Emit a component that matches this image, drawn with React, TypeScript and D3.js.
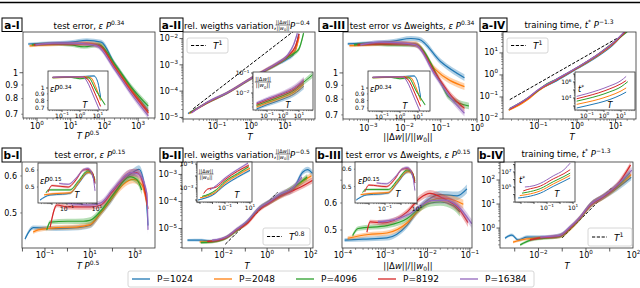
import React from 'react';
import * as d3 from 'd3';

const FONT = 'DejaVu Sans, Verdana, sans-serif';
const COLORS = ['#1f77b4', '#ff7f0e', '#2ca02c', '#d62728', '#9467bd'];
const SERIES_LABELS = ['P=1024', 'P=2048', 'P=4096', 'P=8192', 'P=16384'];
const M = '\u2212';

type Pt = [number, number];
type Tick = [number, string, string];

// ---------- a-I : test error vs T P^0.5 ----------
const aI_main: Pt[][] = [
  [[0.55, 1.28], [2, 1.29], [10, 1.3], [30, 1.32], [80, 1.3], [200, 1.08], [600, 0.88], [2000, 0.72]],
  [[0.6, 1.26], [2, 1.27], [10, 1.28], [30, 1.29], [70, 1.27], [200, 1.06], [600, 0.87], [2000, 0.71]],
  [[0.7, 1.27], [2, 1.28], [10, 1.27], [25, 1.25], [70, 1.27], [200, 1.08], [600, 0.89], [2000, 0.75]],
  [[0.8, 1.27], [2, 1.28], [10, 1.28], [30, 1.28], [70, 1.26], [200, 1.05], [600, 0.86], [2000, 0.71]],
  [[0.9, 1.27], [3, 1.29], [10, 1.29], [30, 1.28], [60, 1.26], [200, 1.03], [600, 0.84], [2000, 0.69]],
];
const aI_inset: Pt[][] = [
  [[0.03, 1.21], [0.3, 1.22], [2, 1.23], [6, 1.24], [10, 1.1], [14, 0.85]],
  [[0.03, 1.2], [0.3, 1.21], [2, 1.22], [4, 1.2], [8, 1.0], [14, 0.8]],
  [[0.03, 1.2], [0.3, 1.21], [1, 1.18], [3, 1.2], [8, 0.95], [25, 0.74]],
  [[0.03, 1.21], [0.3, 1.22], [1.5, 1.22], [3, 1.15], [7, 0.9], [14, 0.72]],
  [[0.03, 1.21], [0.3, 1.22], [1.5, 1.22], [2.5, 1.12], [6, 0.85], [13, 0.66]],
];
const aI_xTicks: Tick[] = [[1, '10', '0'], [10, '10', '1'], [100, '10', '2'], [1000, '10', '3']];
const errA_yTicks: Tick[] = [[1, '1', ''], [0.9, '0.9', ''], [0.8, '0.8', ''], [0.7, '0.7', '']];
const insA_xTicks: Tick[] = [[0.1, '10', M + '1'], [1, '10', '0'], [10, '10', '1']];

// ---------- a-II : relative weights variation ----------
const aII_main: Pt[][] = [
  [[0.014, 1.4e-5], [0.05, 3.5e-5], [0.2, 8.5e-5], [1, 3e-4], [3, 6.5e-4], [6, 1.05e-3], [12, 1.7e-3], [18, 2.6e-3], [22, 6e-3], [25, 1.5e-2]],
  [[0.015, 1.4e-5], [0.05, 3.5e-5], [0.2, 8.5e-5], [1, 3e-4], [3, 6.6e-4], [6, 1.1e-3], [12, 2e-3], [20, 3.5e-3], [26, 1.2e-2]],
  [[0.016, 1.5e-5], [0.05, 3.6e-5], [0.2, 8.6e-5], [1, 3e-4], [3, 6.8e-4], [6, 1.1e-3], [12, 2e-3], [25, 3.8e-3], [35, 1.6e-2]],
  [[0.017, 1.5e-5], [0.05, 3.6e-5], [0.2, 8.7e-5], [1, 3.1e-4], [3, 7e-4], [6, 1.15e-3], [12, 2.2e-3], [20, 5e-3], [26, 1.5e-2]],
  [[0.018, 1.5e-5], [0.05, 3.7e-5], [0.2, 8.8e-5], [1, 3.1e-4], [3, 7e-4], [6, 1.2e-3], [12, 2.4e-3], [18, 6e-3], [23, 1.6e-2]],
];
const aII_inset: Pt[][] = [
  [[0.022, 1.6e-3], [0.1, 2.6e-3], [1, 5e-3], [5, 9e-3], [20, 2.2e-2]],
  [[0.022, 2e-3], [0.1, 3.2e-3], [1, 6.2e-3], [5, 1.1e-2], [20, 2.8e-2]],
  [[0.022, 2.4e-3], [0.1, 3.8e-3], [1, 7.5e-3], [5, 1.4e-2], [20, 3.5e-2], [70, 8e-2]],
  [[0.022, 2.8e-3], [0.1, 4.5e-3], [1, 9e-3], [5, 1.6e-2], [20, 4e-2]],
  [[0.022, 3.2e-3], [0.1, 5.2e-3], [1, 1e-2], [5, 1.9e-2], [20, 4.5e-2]],
];
const aII_xTicks: Tick[] = [[0.1, '10', M + '1'], [1, '10', '0'], [10, '10', '1']];
const aII_yTicks: Tick[] = [[1e-2, '10', M + '2'], [1e-3, '10', M + '3'], [1e-4, '10', M + '4'], [1e-5, '10', M + '5']];
const aII_insYTicks: Tick[] = [[1e-1, '10', M + '1'], [1e-2, '10', M + '2']];

// ---------- a-III : test error vs delta weights ----------
const aIII_main: Pt[][] = [
  [[2.7e-4, 1.28], [1e-3, 1.29], [5e-3, 1.31], [0.015, 1.34], [0.025, 1.33], [0.1, 1.1], [0.45, 0.96]],
  [[3e-4, 1.26], [1e-3, 1.27], [5e-3, 1.29], [0.02, 1.28], [0.07, 1.03], [0.45, 0.89]],
  [[4e-4, 1.27], [1e-3, 1.28], [5e-3, 1.27], [0.02, 1.27], [0.1, 0.92], [0.16, 0.82], [0.6, 0.755]],
  [[5e-4, 1.27], [2e-3, 1.28], [8e-3, 1.28], [0.02, 1.27], [0.07, 1.0], [0.2, 0.82], [0.45, 0.74]],
  [[6e-4, 1.27], [2e-3, 1.3], [8e-3, 1.29], [0.02, 1.27], [0.07, 0.98], [0.2, 0.8], [0.45, 0.71]],
];
const aIII_xTicks: Tick[] = [[1e-3, '10', M + '3'], [1e-2, '10', M + '2'], [1e-1, '10', M + '1'], [1, '10', '0']];

// ---------- a-IV : training time ----------
const aIV_main: Pt[][] = [
  [[0.017, 0.026], [0.04, 0.06], [0.06, 0.1], [0.1, 0.2], [0.3, 0.55], [1, 1.9], [3, 6], [10, 30], [17, 90]],
  [[0.017, 0.025], [0.04, 0.055], [0.06, 0.09], [0.1, 0.19], [0.3, 0.6], [1, 2], [3, 6.5], [10, 32], [18, 90]],
  [[0.018, 0.03], [0.04, 0.065], [0.08, 0.15], [0.15, 0.35], [0.3, 0.65], [1, 2.1], [3, 7], [10, 35], [20, 92]],
  [[0.018, 0.028], [0.05, 0.08], [0.1, 0.21], [0.3, 0.62], [1, 2.1], [3, 7], [10, 34], [18, 90]],
  [[0.018, 0.03], [0.05, 0.085], [0.1, 0.22], [0.3, 0.66], [1, 2.2], [3, 7.2], [10, 36], [17, 92]],
];
const aIV_inset: Pt[][] = [
  [[0.025, 560], [0.1, 1100], [0.5, 2500], [2, 6000], [10, 2.5e4], [20, 5.5e4]],
  [[0.025, 1600], [0.1, 3000], [0.5, 7000], [2, 1.8e4], [10, 7.5e4], [20, 1.8e5]],
  [[0.025, 4000], [0.1, 8000], [0.5, 2e4], [2, 5.5e4], [10, 2.5e5], [25, 1.1e6]],
  [[0.025, 8000], [0.1, 1.7e4], [0.5, 4.5e4], [2, 1.3e5], [10, 6e5], [20, 1.5e6]],
  [[0.025, 1.6e4], [0.1, 3.5e4], [0.5, 1e5], [2, 3e5], [10, 1.5e6], [20, 5e6]],
];
const aIV_yTicks: Tick[] = [[10, '10', '1'], [1, '10', '0'], [0.1, '10', M + '1'], [0.01, '10', M + '2']];
const aIV_insYTicks: Tick[] = [[1e6, '10', '6'], [1e4, '10', '4']];

// ---------- b-I : test error ----------
const bI_main: Pt[][] = [
  [[0.013, 0.44], [0.03, 0.465], [0.3, 0.463], [3, 0.465], [10, 0.47], [30, 0.5], [80, 0.53], [300, 0.585], [1000, 0.615], [1500, 0.62], [3000, 0.55], [3800, 0.47]],
  [[0.03, 0.455], [0.05, 0.46], [0.3, 0.465], [3, 0.467], [10, 0.472], [30, 0.5], [100, 0.54], [300, 0.575], [800, 0.59], [2000, 0.575], [3500, 0.52]],
  [[0.12, 0.46], [0.17, 0.478], [1, 0.48], [5, 0.48], [10, 0.482], [30, 0.505], [100, 0.545], [600, 0.598], [1200, 0.59], [2000, 0.56]],
  [[0.17, 0.466], [0.34, 0.52], [1, 0.515], [10, 0.515], [30, 0.52], [100, 0.555], [700, 0.61], [1200, 0.61], [2500, 0.57], [3800, 0.51]],
  [[1, 0.525], [3, 0.522], [10, 0.52], [30, 0.525], [100, 0.56], [700, 0.61], [1500, 0.605], [3400, 0.55], [3800, 0.46]],
];
const bI_inset: Pt[][] = [
  [[0.0016, 0.435], [0.0074, 0.459], [0.05, 0.463], [0.16, 0.468], [0.6, 0.52], [2.1, 0.58], [3.4, 0.587], [7.4, 0.52]],
  [[0.003, 0.46], [0.01, 0.465], [0.16, 0.47], [0.6, 0.525], [2.5, 0.585], [5, 0.575], [7.4, 0.54]],
  [[0.004, 0.47], [0.006, 0.485], [0.16, 0.485], [0.6, 0.535], [2.5, 0.595], [5, 0.58], [7.4, 0.53]],
  [[0.0054, 0.473], [0.01, 0.508], [0.12, 0.5], [0.4, 0.54], [1.2, 0.6], [2.5, 0.604], [5, 0.58], [7.4, 0.52]],
  [[0.03, 0.52], [0.12, 0.515], [0.4, 0.55], [1.2, 0.6], [2.5, 0.61], [5, 0.57], [7.4, 0.48]],
];
const bI_xTicks: Tick[] = [[0.1, '10', M + '1'], [10, '10', '1'], [1000, '10', '3']];
const errB_yTicks: Tick[] = [[0.6, '0.6', ''], [0.5, '0.5', '']];
const insB_xTicks: Tick[] = [[0.1, '10', M + '1'], [10, '10', '1']];

// ---------- b-II : relative weights variation ----------
const bII_main: Pt[][] = [
  [[2.2e-4, 3.7e-6], [1e-3, 3.7e-6], [3e-3, 3.4e-6], [0.014, 4.9e-6], [0.04, 8.8e-6], [0.115, 1.7e-5], [0.45, 5.7e-5], [1.3, 9.6e-5], [3.7, 1.7e-4], [15, 2.7e-4], [43, 1.2e-3], [72, 1.5e-3], [120, 1.1e-3]],
  [[8e-4, 3.2e-6], [3e-3, 3.3e-6], [0.014, 4.7e-6], [0.04, 8.5e-6], [0.115, 1.6e-5], [0.45, 5.5e-5], [1.3, 9.5e-5], [3.7, 1.6e-4], [15, 3e-4], [50, 6e-4], [110, 9e-4]],
  [[9e-4, 3e-6], [3e-3, 3.2e-6], [0.014, 4.6e-6], [0.04, 8.5e-6], [0.115, 1.65e-5], [0.45, 5.6e-5], [1.3, 9.5e-5], [3.7, 1.6e-4], [15, 3.2e-4], [70, 8e-4]],
  [[1.8e-3, 3.3e-6], [5e-3, 3.6e-6], [0.014, 4.8e-6], [0.04, 9e-6], [0.115, 1.5e-5], [0.45, 5e-5], [1.3, 9e-5], [3.7, 1.5e-4], [15, 2.5e-4], [50, 4e-4], [120, 6e-4]],
  [[3e-3, 3.7e-6], [0.014, 5e-6], [0.04, 9.5e-6], [0.115, 1.8e-5], [0.45, 6e-5], [1.3, 1e-4], [3.7, 1.8e-4], [15, 3.2e-4], [40, 8e-4]],
];
const bII_inset: Pt[][] = [
  [[7e-4, 1e-4], [3e-3, 1.5e-4], [0.01, 2.5e-4], [0.1, 1.8e-3], [1, 8e-3], [10, 3e-2]],
  [[1e-3, 1.5e-4], [4e-3, 2.2e-4], [0.02, 5e-4], [0.1, 2.5e-3], [1, 1.2e-2], [10, 4.5e-2]],
  [[1.5e-3, 2e-4], [5e-3, 3e-4], [0.02, 7e-4], [0.1, 3.5e-3], [1, 1.6e-2], [8, 6e-2]],
  [[2e-3, 3.5e-4], [4e-3, 8e-4], [0.02, 1.2e-3], [0.1, 5e-3], [1, 2.5e-2], [8, 8e-2]],
  [[6e-3, 6.8e-4], [0.02, 1.6e-3], [0.1, 6.8e-3], [1, 3.5e-2], [7, 0.12]],
];
const bII_xTicks: Tick[] = [[1e-2, '10', M + '2'], [1, '10', '0'], [100, '10', '2']];
const bII_yTicks: Tick[] = [[1e-3, '10', M + '3'], [1e-4, '10', M + '4'], [1e-5, '10', M + '5']];
const bII_insYTicks: Tick[] = [[1e-1, '10', M + '1'], [1e-3, '10', M + '3']];

// ---------- b-III : test error vs delta weights ----------
const bIII_main: Pt[][] = [
  [[1.1e-4, 0.467], [3e-4, 0.47], [1.1e-3, 0.474], [3.3e-3, 0.517], [5.6e-3, 0.565], [9.8e-3, 0.61], [0.02, 0.635], [0.05, 0.63], [0.085, 0.66]],
  [[1.3e-4, 0.473], [4e-4, 0.485], [1.1e-3, 0.49], [3.3e-3, 0.525], [6e-3, 0.57], [0.012, 0.61], [0.023, 0.62], [0.045, 0.61], [0.07, 0.595]],
  [[1.7e-4, 0.482], [2.3e-4, 0.505], [1.1e-3, 0.515], [3.3e-3, 0.54], [6e-3, 0.575], [0.012, 0.6], [0.02, 0.604], [0.04, 0.59], [0.058, 0.565]],
  [[3.7e-4, 0.493], [4.4e-4, 0.528], [8.8e-4, 0.525], [3.3e-3, 0.565], [6.6e-3, 0.62], [0.0114, 0.64], [0.023, 0.62], [0.058, 0.572], [0.09, 0.526]],
  [[6.7e-4, 0.528], [2.2e-3, 0.542], [4e-3, 0.56], [7e-3, 0.59], [0.012, 0.61], [0.025, 0.612], [0.05, 0.59], [0.11, 0.522]],
];
const bIII_xTicks: Tick[] = [[1e-4, '10', M + '4'], [1e-3, '10', M + '3'], [1e-2, '10', M + '2'], [1e-1, '10', M + '1']];

// ---------- b-IV : training time ----------
const bIV_main: Pt[][] = [
  [[3.9e-4, 0.38], [7.6e-4, 0.51], [1.4e-3, 0.32], [3.3e-3, 0.42], [0.023, 0.42], [0.08, 0.5], [0.21, 1], [0.56, 2.6], [1.5, 9], [5.2, 19], [20, 45], [80, 130]],
  [[8.5e-4, 0.26], [3e-3, 0.35], [0.02, 0.4], [0.08, 0.45], [0.21, 0.9], [0.56, 2.5], [1.5, 8.5], [5.2, 19], [20, 50], [80, 170]],
  [[1.7e-3, 0.2], [5e-3, 0.32], [0.02, 0.38], [0.08, 0.45], [0.21, 0.95], [0.56, 2.6], [1.5, 9], [5.2, 20], [20, 55], [70, 200]],
  [[4.4e-3, 0.32], [0.01, 0.38], [0.03, 0.42], [0.08, 0.48], [0.21, 1], [0.56, 2.7], [1.5, 9], [5.2, 20], [20, 60], [75, 420]],
  [[0.012, 0.42], [0.03, 0.45], [0.08, 0.5], [0.21, 1.1], [0.56, 2.8], [1.5, 9.5], [5.2, 21], [20, 60], [85, 260]],
];
const bIV_inset: Pt[][] = [
  [[6e-4, 3.4e3], [3e-3, 5e3], [0.03, 1.5e4], [0.3, 1.2e5], [2, 6e5], [6, 1.6e6]],
  [[8e-4, 7e3], [3e-3, 1e4], [0.03, 3e4], [0.3, 2.5e5], [2, 1.3e6], [6, 3.5e6]],
  [[1.2e-3, 1.5e4], [3e-3, 2e4], [0.03, 6e4], [0.3, 5e5], [2, 2.5e6], [6, 7e6]],
  [[1.5e-3, 3e4], [3e-3, 4.5e4], [0.03, 1.3e5], [0.3, 1.2e6], [2, 6e6], [6, 2e7]],
  [[2e-3, 1e5], [0.01, 1.5e5], [0.03, 3e5], [0.3, 3e6], [2, 2e7], [6, 1.5e8]],
];
const bIV_yTicks: Tick[] = [[100, '10', '2'], [10, '10', '1'], [1, '10', '0']];
const bIV_insYTicks: Tick[] = [[1e7, '10', '7'], [1e5, '10', '5']];

// reference power laws: [exponent, anchor x, anchor y, from x, to x]
const aII_ref = [1, 1, 1.07e-3, 0.02, 18];
const aIV_ref = [1, 1, 4.2, 0.018, 14];
const bII_ref = [0.8, 0.115, 1.6e-5, 0.012, 3];
const bIV_ref = [1, 1, 3.9, 0.1, 12];

// ---------------------------------------------------------------

function logTicks(e: number[]) {
  const out: { v: number; major: boolean }[] = [];
  const wide = e[1] - e[0] > 5.5;
  for (let k = Math.floor(e[0]); k <= Math.ceil(e[1]); k++) {
    for (let m = 1; m <= 9; m++) {
      if (wide && m > 1) continue;
      const v = m * Math.pow(10, k);
      const lv = Math.log10(v);
      if (lv >= e[0] - 1e-9 && lv <= e[1] + 1e-9) out.push({ v, major: m === 1 });
    }
  }
  return out;
}

function TickText({ x, y, t, size, anchor }: any) {
  return (
    <text x={x} y={y} fontSize={size} textAnchor={anchor} fill="#000">
      {t[1]}
      {t[2] ? <tspan dy={-size * 0.42} fontSize={size * 0.7}>{t[2]}</tspan> : null}
    </text>
  );
}

function Frac({ cx, lineY, size }: any) {
  const w = size * 3.0;
  return (
    <g fontSize={size} textAnchor="middle">
      <text x={cx} y={lineY - 1.2}>||Δ<tspan fontStyle="italic">w</tspan>||</text>
      <line x1={cx - w / 2} x2={cx + w / 2} y1={lineY} y2={lineY} stroke="#000" strokeWidth={0.5} />
      <text x={cx} y={lineY + size * 0.95}>||<tspan fontStyle="italic">w</tspan><tspan dy={size * 0.25} fontSize={size * 0.7}>0</tspan><tspan dy={-size * 0.25}>||</tspan></text>
    </g>
  );
}

function DwLabel({ x, y, size }: any) {
  return (
    <text x={x} y={y} fontSize={size} textAnchor="middle">
      ||Δ<tspan fontStyle="italic">w</tspan>||/||<tspan fontStyle="italic">w</tspan>
      <tspan dy={size * 0.25} fontSize={size * 0.7}>0</tspan>
      <tspan dy={-size * 0.25}>||</tspan>
    </text>
  );
}

function Axes(p: any) {
  const [x0, x1, y0, y1] = p.box;
  const xs = d3.scaleLog().domain([Math.pow(10, p.xExp[0]), Math.pow(10, p.xExp[1])]).range([x0, x1]);
  const ys = d3.scaleLog().domain([Math.pow(10, p.yExp[0]), Math.pow(10, p.yExp[1])]).range([y1, y0]);
  const xt = logTicks(p.xExp);
  const yt = logTicks(p.yExp);
  const tl = p.tickLen;
  const yDy = p.yLabDy !== undefined ? p.yLabDy : p.font * 0.35;
  const line = d3.line<Pt>().x(d => xs(d[0])).y(d => ys(d[1])).curve(d3.curveMonotoneX);
  const bandW = (i: number, n: number) => p.band * (0.6 + 0.8 * (n > 1 ? i / (n - 1) : 0));
  const mkArea = (s: Pt[]) =>
    d3.area<Pt>()
      .x(d => xs(d[0]))
      .y0((d, i) => ys(d[1]) + bandW(i, s.length))
      .y1((d, i) => ys(d[1]) - bandW(i, s.length))
      .curve(d3.curveMonotoneX)(s);
  let refPath: string | null = null;
  if (p.ref) {
    const [ex, ax, ay, fx, tx] = p.ref;
    const pts: Pt[] = [fx, tx].map(x => [x, ay * Math.pow(x / ax, ex)] as Pt);
    refPath = d3.line<Pt>().x(d => xs(d[0])).y(d => ys(d[1]))(pts);
  }
  return (
    <g>
      <rect x={x0} y={y0} width={x1 - x0} height={y1 - y0} fill="#fff" />
      <clipPath id={p.id}>
        <rect x={x0} y={y0} width={x1 - x0} height={y1 - y0} />
      </clipPath>
      <g clipPath={`url(#${p.id})`}>
        {refPath && <path d={refPath} fill="none" stroke="#000" strokeWidth={1} strokeDasharray="3.2,1.6" />}
        {p.series.map((s: Pt[], i: number) => (
          <g key={i}>
            {p.band > 0 && <path d={mkArea(s) || ''} fill={COLORS[i]} opacity={0.35} />}
            <path d={line(s) || ''} fill="none" stroke={COLORS[i]} strokeWidth={p.lw} />
          </g>
        ))}
      </g>
      <rect x={x0} y={y0} width={x1 - x0} height={y1 - y0} fill="none" stroke="#333" strokeWidth={0.8} />
      {xt.map((t, i) => (
        <line key={'xt' + i} x1={xs(t.v)} x2={xs(t.v)} y1={y1} y2={y1 + (t.major ? tl : tl * 0.55)} stroke="#333" strokeWidth={t.major ? 0.8 : 0.5} />
      ))}
      {yt.map((t, i) => (
        <line key={'yt' + i} x1={x0} x2={x0 - (t.major ? tl : tl * 0.55)} y1={ys(t.v)} y2={ys(t.v)} stroke="#333" strokeWidth={t.major ? 0.8 : 0.5} />
      ))}
      <g fontFamily={FONT}>
        {p.xTicks.map((t: Tick, i: number) => (
          <TickText key={'xl' + i} x={xs(t[0])} y={y1 + p.xLabOff} t={t} size={p.font} anchor="middle" />
        ))}
        {p.yTicks.map((t: Tick, i: number) => (
          <TickText key={'yl' + i} x={x0 - tl - 1.5} y={ys(t[0]) + yDy} t={t} size={p.font} anchor="end" />
        ))}
      </g>
      {p.legend && (
        <g fontFamily={FONT}>
          <rect x={p.legend[0]} y={p.legend[1]} width={p.legend[2]} height={p.legend[3]} rx={2} fill="#fff" fillOpacity={0.85} stroke="#ccc" strokeWidth={0.8} />
          <line x1={p.legend[0] + 4} x2={p.legend[0] + 19} y1={p.legend[1] + p.legend[3] / 2} y2={p.legend[1] + p.legend[3] / 2} stroke="#000" strokeWidth={1} strokeDasharray="3.2,1.6" />
          <text x={p.legend[0] + 26} y={p.legend[1] + p.legend[3] / 2 + 3.5} fontSize={9}>
            <tspan fontStyle="italic">T</tspan>
            <tspan dy={-4} fontSize={6.3}>{p.legendExp}</tspan>
          </text>
        </g>
      )}
    </g>
  );
}

function Inset(p: any) {
  return (
    <g>
      <Axes {...p} tickLen={2} font={6} lw={1} xLabOff={8} />
      <g fontFamily={FONT}>
        {p.yLabel}
        <text x={p.tPos[0]} y={p.tPos[1]} fontSize={8} fontStyle="italic" textAnchor="middle">T</text>
      </g>
    </g>
  );
}

function LabelBox({ x, y, w, h, text }: any) {
  return (
    <g>
      <rect x={x} y={y} width={w} height={h} fill="#fff" stroke="#000" strokeWidth={1} />
      <text x={x + w / 2} y={y + h - 3} fontSize={10.5} fontWeight="bold" textAnchor="middle" fontFamily={FONT}>{text}</text>
    </g>
  );
}

function EpsLabel({ x, y, exp, size }: any) {
  return (
    <text x={x} y={y} fontSize={size}>
      <tspan fontStyle="italic">εP</tspan>
      <tspan dy={-size * 0.42} fontSize={size * 0.7}>{exp}</tspan>
    </text>
  );
}

function TStarLabel({ x, y, size }: any) {
  return (
    <text x={x} y={y} fontSize={size}>
      <tspan fontStyle="italic">t</tspan>
      <tspan dy={-size * 0.42} fontSize={size * 0.7}>*</tspan>
    </text>
  );
}

export default function App() {
  const mainCommon = { tickLen: 3.5, font: 8, lw: 1.2 };
  const TS = 8.5;
  return (
    <svg width={640} height={288} style={{ position: 'absolute', left: 0, top: 0, background: '#fff' }} fontFamily={FONT}>
      <rect x={0} y={0} width={640} height={288} fill="#fff" />
      <line x1={0} x2={640} y1={2.5} y2={2.5} stroke="#000" strokeWidth={1.6} />

      {/* ================= a-I ================= */}
      <Axes id="aI" {...mainCommon} box={[23, 155, 32, 118]} xExp={[-0.415, 3.5]} yExp={[-0.169, 0.152]}
        series={aI_main} xTicks={aI_xTicks} yTicks={errA_yTicks} band={2.2} xLabOff={10.5} />
      <Inset id="aIi" box={[48, 108, 71, 110]} xExp={[-1.78, 1.56]} yExp={[-0.171, 0.132]} series={aI_inset}
        xTicks={insA_xTicks} yTicks={errA_yTicks} band={0.8} tPos={[85, 108]}
        yLabel={<EpsLabel x={50} y={92} exp="0.34" size={8} />} />
      <LabelBox x={2} y={18} w={20} h={13.5} text="a-I" />
      <text x={89} y={29} fontSize={TS} textAnchor="middle">test error, <tspan fontStyle="italic">ε P</tspan><tspan dy={-3.6} fontSize={6}>0.34</tspan></text>
      <text x={88} y={139} fontSize={TS} textAnchor="middle"><tspan fontStyle="italic">T P</tspan><tspan dy={-3.6} fontSize={6}>0.5</tspan></text>

      {/* ================= a-II ================= */}
      <Axes id="aII" {...mainCommon} box={[183, 315, 32, 119]} xExp={[-2.0, 1.88]} yExp={[-5.06, -1.75]}
        series={aII_main} xTicks={aII_xTicks} yTicks={aII_yTicks} band={1.6} xLabOff={10}
        ref={aII_ref} legend={[187, 38, 41, 15]} legendExp="1" />
      <Inset id="aIIi" box={[253, 313, 72, 110]} xExp={[-1.88, 1.88]} yExp={[-2.85, -0.95]} series={aII_inset}
        xTicks={aII_xTicks} yTicks={aII_insYTicks} band={2.2} tPos={[288, 108]}
        yLabel={<Frac cx={263} lineY={82} size={5.5} />} />
      <LabelBox x={160} y={18} w={23} h={13.5} text="a-II" />
      <text x={184} y={29} fontSize={TS}>rel. weigths variation,</text>
      <Frac cx={283} lineY={25} size={5} />
      <text x={290} y={29} fontSize={TS}><tspan fontStyle="italic">P</tspan><tspan dy={-3.6} fontSize={6}>{M}0.4</tspan></text>
      <text x={250} y={139.5} fontSize={TS} fontStyle="italic" textAnchor="middle">T</text>

      {/* ================= a-III ================= */}
      <Axes id="aIII" {...mainCommon} box={[343, 477, 32, 119]} xExp={[-3.7, 0]} yExp={[-0.170, 0.151]}
        series={aIII_main} xTicks={aIII_xTicks} yTicks={errA_yTicks} band={2.4} xLabOff={11.5} />
      <Inset id="aIIIi" box={[368, 430, 71, 111]} xExp={[-1.78, 1.67]} yExp={[-0.178, 0.132]} series={aI_inset}
        xTicks={insA_xTicks} yTicks={errA_yTicks} band={0.8} tPos={[405, 109]}
        yLabel={<EpsLabel x={370} y={92} exp="0.34" size={8} />} />
      <LabelBox x={319} y={18} w={29} h={13.5} text="a-III" />
      <text x={412} y={29} fontSize={TS} textAnchor="middle">test error vs Δweights, <tspan fontStyle="italic">ε P</tspan><tspan dy={-3.6} fontSize={6}>0.34</tspan></text>
      <DwLabel x={408} y={140} size={TS} />

      {/* ================= a-IV ================= */}
      <Axes id="aIV" {...mainCommon} box={[503, 636, 32, 119]} xExp={[-1.92, 1.53]} yExp={[-2.0, 1.95]}
        series={aIV_main} xTicks={aII_xTicks} yTicks={aIV_yTicks} band={0.7} xLabOff={10} yLabDy={1.8}
        ref={aIV_ref} legend={[507, 38, 41, 15]} legendExp="1" />
      <Inset id="aIVi" box={[575, 635, 72, 110]} xExp={[-1.7, 1.82]} yExp={[2.5, 7.25]} series={aIV_inset}
        xTicks={insA_xTicks} yTicks={aIV_insYTicks} band={0} tPos={[610, 108]}
        yLabel={<TStarLabel x={578} y={92} size={8} />} />
      <LabelBox x={480} y={18} w={27} h={13.5} text="a-IV" />
      <text x={569} y={28} fontSize={TS} textAnchor="middle">training time, <tspan fontStyle="italic">t</tspan><tspan dy={-3.6} fontSize={6}>*</tspan><tspan dy={3.6}> </tspan><tspan fontStyle="italic">P</tspan><tspan dy={-3.6} fontSize={6}>{M}1.3</tspan></text>
      <text x={572} y={139.5} fontSize={TS} fontStyle="italic" textAnchor="middle">T</text>

      {/* ================= b-I ================= */}
      <Axes id="bI" {...mainCommon} box={[22, 155, 162, 248]} xExp={[-2.02, 3.89]} yExp={[-0.376, -0.192]}
        series={bI_main} xTicks={bI_xTicks} yTicks={errB_yTicks} band={3.2} xLabOff={9.5} />
      <Inset id="bIi" box={[38, 97, 163, 203]} xExp={[-2.93, 1.0]} yExp={[-0.3753, -0.1892]} series={bI_inset}
        xTicks={insB_xTicks} yTicks={errB_yTicks} band={1.4} tPos={[77, 198]}
        yLabel={<EpsLabel x={40} y={184} exp="0.15" size={8} />} />
      <LabelBox x={2} y={148} w={19} h={14} text="b-I" />
      <text x={90} y={158} fontSize={TS} textAnchor="middle">test error, <tspan fontStyle="italic">ε P</tspan><tspan dy={-3.6} fontSize={6}>0.15</tspan></text>
      <text x={88} y={268.5} fontSize={TS} textAnchor="middle"><tspan fontStyle="italic">T P</tspan><tspan dy={-3.6} fontSize={6}>0.5</tspan></text>

      {/* ================= b-II ================= */}
      <Axes id="bII" {...mainCommon} box={[182, 313, 162, 248]} xExp={[-3.91, 2.11]} yExp={[-5.72, -2.54]}
        series={bII_main} xTicks={bII_xTicks} yTicks={bII_yTicks} band={2.2} xLabOff={9.5}
        ref={bII_ref} legend={[263, 228, 47, 17]} legendExp="0.8" />
      <Inset id="bIIi" box={[197, 252, 162, 202]} xExp={[-3.24, 1.16]} yExp={[-4.17, -0.83]} series={bII_inset}
        xTicks={insB_xTicks} yTicks={bII_insYTicks} band={0.9} tPos={[237, 198]}
        yLabel={<Frac cx={206} lineY={174} size={5} />} />
      <LabelBox x={160} y={148} w={23} h={14} text="b-II" />
      <text x={184} y={158} fontSize={TS}>rel. weigths variation,</text>
      <Frac cx={283} lineY={154} size={5} />
      <text x={290} y={158} fontSize={TS}><tspan fontStyle="italic">P</tspan><tspan dy={-3.6} fontSize={6}>{M}0.5</tspan></text>
      <text x={247} y={268.5} fontSize={TS} fontStyle="italic" textAnchor="middle">T</text>

      {/* ================= b-III ================= */}
      <Axes id="bIII" {...mainCommon} box={[342, 472, 162, 248]} xExp={[-4.02, -0.95]} yExp={[-0.3538, -0.1016]}
        series={bIII_main} xTicks={bIII_xTicks} yTicks={errB_yTicks} band={3.2} xLabOff={9.5} />
      <Inset id="bIIIi" box={[355, 417, 162, 203]} xExp={[-2.875, 1.0]} yExp={[-0.3753, -0.1892]} series={bI_inset}
        xTicks={insB_xTicks} yTicks={errB_yTicks} band={1.4} tPos={[398, 197]}
        yLabel={<EpsLabel x={358} y={184} exp="0.15" size={8} />} />
      <LabelBox x={316} y={148} w={26} h={14} text="b-III" />
      <text x={408} y={158} fontSize={TS} textAnchor="middle">test error vs Δweights, <tspan fontStyle="italic">ε P</tspan><tspan dy={-3.6} fontSize={6}>0.15</tspan></text>
      <DwLabel x={408} y={268.5} size={TS} />

      {/* ================= b-IV ================= */}
      <Axes id="bIV" {...mainCommon} box={[500, 633, 162, 248]} xExp={[-3.62, 1.98]} yExp={[-0.83, 2.75]}
        series={bIV_main} xTicks={bII_xTicks} yTicks={bIV_yTicks} band={2.2} xLabOff={9.5}
        ref={bIV_ref} legend={[588, 228, 44, 18]} legendExp="1" />
      <Inset id="bIVi" box={[515, 575, 162, 202]} xExp={[-3.46, 1.15]} yExp={[3.0, 8.33]} series={bIV_inset}
        xTicks={insB_xTicks} yTicks={bIV_insYTicks} band={0} tPos={[557, 197]}
        yLabel={<TStarLabel x={519} y={183} size={8} />} />
      <LabelBox x={478} y={148} w={26} h={14} text="b-IV" />
      <text x={566} y={157} fontSize={TS} textAnchor="middle">training time, <tspan fontStyle="italic">t</tspan><tspan dy={-3.6} fontSize={6}>*</tspan><tspan dy={3.6}> </tspan><tspan fontStyle="italic">P</tspan><tspan dy={-3.6} fontSize={6}>{M}1.3</tspan></text>
      <text x={567} y={268.5} fontSize={TS} fontStyle="italic" textAnchor="middle">T</text>

      {/* ================= legend ================= */}
      <g>
        <rect x={128} y={271} width={406} height={16} rx={2} fill="#fff" stroke="#ccc" strokeWidth={0.8} />
        {SERIES_LABELS.map((lab, i) => {
          const lx = 132 + i * 82;
          return (
            <g key={lab}>
              <line x1={lx} x2={lx + 18} y1={279} y2={279} stroke={COLORS[i]} strokeWidth={1.3} />
              <text x={lx + 25} y={282.3} fontSize={9}>{lab}</text>
            </g>
          );
        })}
      </g>
    </svg>
  );
}
